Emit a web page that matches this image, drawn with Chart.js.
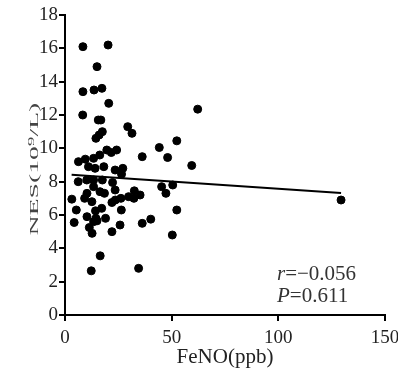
<!DOCTYPE html>
<html>
<head>
<meta charset="utf-8">
<script src="https://cdn.jsdelivr.net/npm/chart.js@4"></script>
<style>
  html, body { margin: 0; padding: 0; background: #fff; }
  #wrap { width: 398px; height: 374px; }
</style>
</head>
<body>
<div id="wrap"><canvas id="nesChart" width="398" height="374"></canvas></div>
<script>
// FeNO (ppb) vs NES (10^9/L)
const fenoValues = [
    8.4, 20.2, 15.0, 8.4, 13.6, 17.3, 20.5, 8.3, 15.6, 16.8, 17.5, 14.5, 16.0, 29.4, 31.4, 62.2, 52.4, 44.2,
    19.6, 21.7, 24.2, 16.3, 13.4, 9.5, 6.3, 36.2, 48.1, 59.4,
    11.0, 14.1, 18.2, 23.5, 27.1, 26.5,
    6.2, 10.2, 13.4, 17.5, 22.3, 45.3, 50.5,
    13.4, 16.4, 18.5, 23.5, 10.3,
    3.2, 9.2, 12.6, 22.0, 23.6, 26.2, 29.8, 32.5, 32.3, 35.2, 47.3,
    5.3, 14.3, 17.2, 26.4, 52.4,
    10.3, 14.5, 19.0, 40.2,
    4.3, 13.4, 15.0, 36.2,
    11.4, 12.7, 22.0, 25.8, 50.3,
    16.5, 12.3, 34.5, 129.4
];
const nesValues = [
    16.1, 16.2, 14.9, 13.4, 13.5, 13.6, 12.7, 12.0, 11.7, 11.7, 11.0, 10.6, 10.8, 11.3, 10.9, 12.35, 10.45, 10.05,
    9.9, 9.75, 9.9, 9.6, 9.4, 9.35, 9.2, 9.5, 9.45, 8.97,
    8.9, 8.8, 8.9, 8.7, 8.8, 8.45,
    8.0, 8.1, 8.1, 8.1, 7.95, 7.7, 7.8,
    7.7, 7.4, 7.3, 7.5, 7.3,
    6.95, 7.0, 6.8, 6.75, 6.9, 7.0, 7.1, 7.45, 7.0, 7.2, 7.3,
    6.3, 6.25, 6.4, 6.3, 6.3,
    5.9, 5.8, 5.8, 5.75,
    5.55, 5.6, 5.65, 5.5,
    5.25, 4.9, 5.0, 5.4, 4.8,
    3.55, 2.65, 2.8, 6.9
];

// fitted line end points as drawn in the figure
const fitX = [3.1, 129.4];
const fitY = [8.42, 7.32];

const xTicks = [0, 50, 100, 150];
const yTicks = [0, 2, 4, 6, 8, 10, 12, 14, 16, 18];
const yTitle = 'NES(10\u2079/L)';
const statLines = [['r', '=\u22120.056'], ['P', '=0.611']];

const serif = "'Liberation Serif', 'Times New Roman', serif";

// r / P annotation in the lower right corner
const statsText = {
    id: 'statsText',
    afterDraw(chart) {
        const c = chart.ctx;
        c.save();
        c.fillStyle = '#333';
        statLines.forEach((ln, i) => {
            const x0 = 277, y0 = 280 + i * 22;
            c.font = 'italic 21px ' + serif;
            c.fillText(ln[0], x0, y0);
            const w = c.measureText(ln[0]).width;
            c.font = '21px ' + serif;
            c.fillText(ln[1], x0 + w, y0);
        });
        c.restore();
    }
};

// the y title in the figure is a tall, narrow rotated label
const narrowYTitle = {
    id: 'narrowYTitle',
    afterDraw(chart) {
        const c = chart.ctx;
        c.save();
        c.translate(38, 169);
        c.rotate(-Math.PI / 2);
        c.scale(2.05, 1);
        c.font = '13.5px ' + serif;
        c.fillStyle = '#444';
        c.textAlign = 'center';
        c.textBaseline = 'alphabetic';
        c.fillText(yTitle, 0, 0);
        c.restore();
    }
};

const ctx = document.getElementById('nesChart').getContext('2d');
new Chart(ctx, {
    type: 'scatter',
    data: {
        datasets: [
            {
                label: 'NES',
                data: fenoValues.map((v, i) => ({ x: v, y: nesValues[i] })),
                backgroundColor: '#000',
                borderColor: '#000',
                pointRadius: 4,
                pointHoverRadius: 4
            },
            {
                label: 'fit',
                type: 'line',
                data: fitX.map((v, i) => ({ x: v, y: fitY[i] })),
                borderColor: '#000',
                borderWidth: 2,
                pointRadius: 0,
                fill: false
            }
        ]
    },
    options: {
        responsive: false,
        animation: false,
        layout: { padding: { top: 15, right: 13, left: 0, bottom: 0 } },
        plugins: {
            legend: { display: false },
            tooltip: { enabled: false }
        },
        scales: {
            x: {
                type: 'linear',
                min: 0, max: 150,
                afterBuildTicks: s => { s.ticks = xTicks.map(v => ({ value: v })); },
                afterFit: s => { s.height = 59; s.paddingLeft = 0; s.paddingRight = 0; },
                border: { color: '#000', width: 2 },
                grid: { drawOnChartArea: false, drawTicks: true, tickLength: 6, color: '#000', lineWidth: 2 },
                ticks: { color: '#222', font: { family: serif, size: 19 }, padding: 6 },
                title: { display: true, text: 'FeNO(ppb)', color: '#222', font: { family: serif, size: 21 }, padding: { top: 2 } }
            },
            y: {
                min: 0, max: 18,
                afterBuildTicks: s => { s.ticks = yTicks.map(v => ({ value: v })); },
                afterFit: s => { s.width = 65; s.paddingTop = 0; s.paddingBottom = 0; },
                border: { color: '#000', width: 2 },
                grid: { drawOnChartArea: false, drawTicks: true, tickLength: 6, color: '#000', lineWidth: 2 },
                ticks: { color: '#222', font: { family: serif, size: 19 }, padding: 1 },
                title: { display: false }
            }
        }
    },
    plugins: [statsText, narrowYTitle]
});
</script>
</body>
</html>
